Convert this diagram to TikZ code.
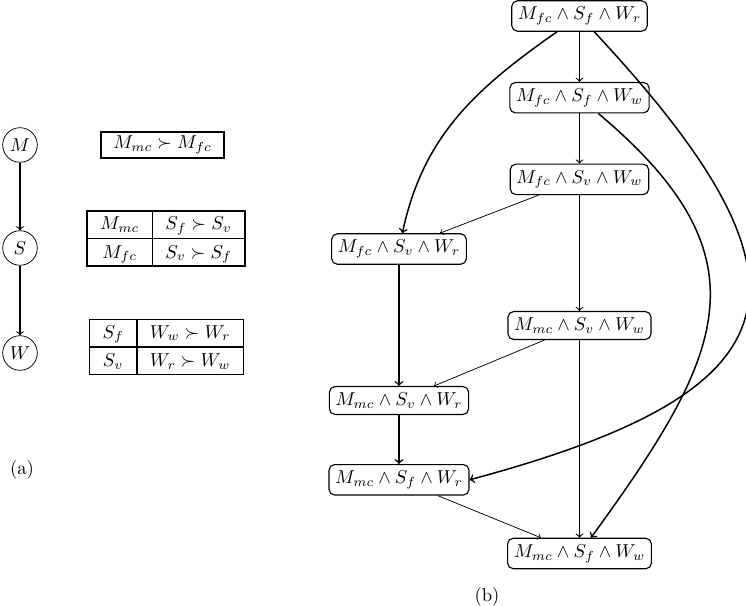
\documentclass[tikz,border=0pt]{standalone}
\usepackage{amsmath}
\usepackage{amssymb}
\usepackage{tikz}
\usetikzlibrary{positioning}
\renewcommand{\arraystretch}{1.2}
\setlength{\tabcolsep}{7pt}
\setlength{\arrayrulewidth}{0.8pt}

\begin{document}
\begin{tikzpicture}[
    x=0.535pt, y=-0.535pt,
    var/.style={draw, circle, minimum size=18.5pt, inner sep=1pt},
    cpt/.style={draw, line width=0.8pt, inner sep=0pt},
    state/.style={draw, semithick, rounded corners=3pt, inner sep=3.3pt},
    weak/.style={->, thin},
    plain/.style={->, semithick},
    strong/.style={->, thick}
]
    \useasboundingbox (0,0) rectangle (746,605);

    % (a) network and its tables
    \node[var] (m) at (20,145) {$M$};
    \node[var] (s) at (20,248) {$S$};
    \node[var] (w) at (20,353) {$W$};
    \draw[plain] (m) -- (s);
    \draw[plain] (s) -- (w);

    \node[draw, line width=0.8pt, inner xsep=6.5pt, inner ysep=2pt] (cptm) at (162.5,145) {$M_{mc} \succ M_{fc}$};
    \node[cpt] (cpts) at (166,238.5) {\begin{tabular}{c|c}
        $M_{mc}$ & $S_f \succ S_v$ \\ \hline
        $M_{fc}$ & $S_v \succ S_f$
    \end{tabular}};
    \node[cpt] (cptw) at (166.5,347) {\begin{tabular}{c|c}
        $S_f$ & $W_w \succ W_r$ \\ \hline
        $S_v$ & $W_r \succ W_w$
    \end{tabular}};
    \node (capa) at (22,470) {(a)};

    % (b) induced preference graph
    \node[state] (fcfr) at (579.5,16) {$M_{fc} \wedge S_f \wedge W_r$};
    \node[state, below=26.8pt of fcfr] (fcfw) {$M_{fc} \wedge S_f \wedge W_w$};
    \node[state, below=26.8pt of fcfw] (fcvw) {$M_{fc} \wedge S_v \wedge W_w$};
    \node[state] (fcvr) at (399,249) {$M_{fc} \wedge S_v \wedge W_r$};
    \node[state] (mcvw) at (579.5,325.5) {$M_{mc} \wedge S_v \wedge W_w$};
    \node[state] (mcvr) at (399,400.5) {$M_{mc} \wedge S_v \wedge W_r$};
    \node[state, below=26.2pt of mcvr] (mcfr) {$M_{mc} \wedge S_f \wedge W_r$};
    \node[state] (mcfw) at (579.5,553.5) {$M_{mc} \wedge S_f \wedge W_w$};
    \node (capb) at (487,597) {(b)};

    \draw[plain] (fcfr) -- (fcfw);
    \draw[plain] (fcfw) -- (fcvw);
    \draw[plain] (fcvw) -- (mcvw);
    \draw[plain] (mcvw) -- (mcfw);
    \draw[weak] (fcvw) -- (fcvr);
    \draw[weak] (mcvw) -- (mcvr);
    \draw[weak] (mcfr) -- (mcfw);
    \draw[strong] (fcvr) -- (mcvr);
    \draw[strong] (mcvr) -- (mcfr);
    \draw[strong] (fcfr) to[out=215, in=78] (fcvr);
    \draw[strong] (fcfr) to[out=-47, in=15, looseness=1.9] (mcfr.east);
    \draw[strong] (fcfw) to[out=-40, in=54, looseness=1.36] (mcfw);
\end{tikzpicture}
\end{document}
